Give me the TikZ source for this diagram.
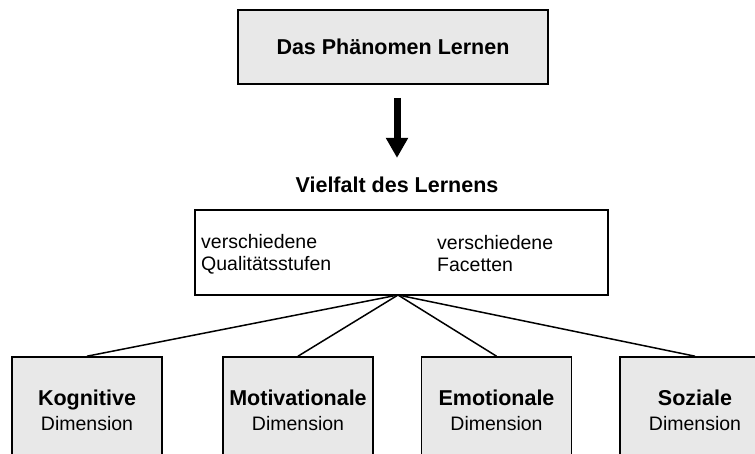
\documentclass[tikz,border=0pt]{standalone}
\usepackage{fontspec}
\setmainfont{Liberation Sans}
\usetikzlibrary{arrows.meta}

\begin{document}
\begin{tikzpicture}[
    x=1pt,y=-1pt,
    >=Triangle,
    box/.style={
        draw=black,
        fill=black!9,
        line width=1.6pt,
        align=center,
        inner sep=0pt
    },
    frame/.style={
        draw=black,
        fill=white,
        line width=1.6pt,
        minimum width=413pt,
        minimum height=85pt
    },
    dimbox/.style={
        box,
        minimum width=150pt,
        minimum height=106pt,
        font=\fontsize{19.5}{25}\selectfont
    },
    lbl/.style={font=\fontsize{19.5}{22}\selectfont, align=left, inner sep=0pt},
    head/.style={font=\fontsize{21.5}{25}\selectfont\bfseries, inner sep=0pt},
    link/.style={line width=1.5pt, draw=black}
]
    \useasboundingbox (0,0) rectangle (755,454);
    \clip (0,0) rectangle (755,454);

    % top
    \node[box, minimum width=310pt, minimum height=74pt,
          font=\fontsize{21.5}{25}\selectfont\bfseries] (phaen) at (393,47) {Das Phänomen Lernen};
    \node[head] (vielfalt) at (397,185) {Vielfalt des Lernens};

    \draw[line width=7pt, -{Triangle[width=21pt,length=20pt]},
          shorten <=13pt, shorten >=19pt] (phaen.south -| vielfalt.north) -- (vielfalt.north);

    % middle box
    \node[frame] (vielbox) at (401.5,252.5) {};
    \node[lbl, anchor=west] (qual) at (201,254) {verschiedene\\Qualitätsstufen};
    \node[lbl, anchor=west] (fac) at (437,254) {verschiedene\\Facetten};
    \coordinate (apex) at (398,295);

    % dimensions
    \node[dimbox] (kog) at (87,410) {\textbf{\fontsize{21.5}{25}\selectfont Kognitive}\\Dimension};
    \node[dimbox] (mot) at (298,410) {\textbf{\fontsize{21.5}{25}\selectfont Motivationale}\\Dimension};
    \node[dimbox] (emo) at (496.5,410) {\textbf{\fontsize{21.5}{25}\selectfont Emotionale}\\Dimension};
    \node[dimbox] (soz) at (695,410) {\textbf{\fontsize{21.5}{25}\selectfont Soziale}\\Dimension};

    \draw[link] (apex) -- (kog.north);
    \draw[link] (apex) -- (mot.north);
    \draw[link] (apex) -- (emo.north);
    \draw[link] (apex) -- (soz.north);

\end{tikzpicture}
\end{document}
